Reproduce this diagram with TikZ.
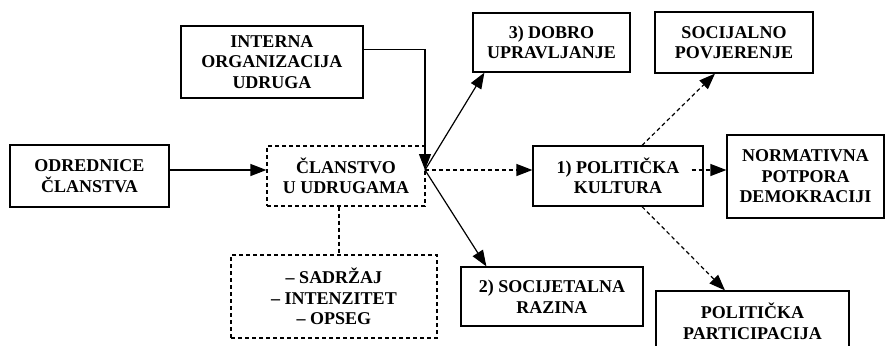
\documentclass[tikz,border=0pt]{standalone}
\usepackage{fontspec}
\setmainfont{Liberation Serif}
\usepackage{tikz}
\usetikzlibrary{arrows.meta,calc}
\tikzset{
  box/.style={draw, line width=0.6pt, align=center, inner sep=0pt, font=\fontsize{9}{10.25}\selectfont\bfseries},
  dbox/.style={box, dash pattern=on 2pt off 1.5pt},
  arrow/.style={-{Triangle[length=8pt,width=6pt]}, line width=0.6pt},
  darrow/.style={arrow, dash pattern=on 2pt off 1.5pt},
  link/.style={line width=0.6pt, dash pattern=on 2pt off 1.5pt}
}

\begin{document}
\begin{tikzpicture}[x=0.5pt,y=-0.5pt]
    \path[use as bounding box, clip] (0,0) rectangle (885,345);
    % Left side
    \node[box, minimum width=91pt, minimum height=36pt] (interna) at (272,62) {INTERNA\\ORGANIZACIJA\\UDRUGA};
    \node[box, minimum width=79.5pt, minimum height=31pt] (odrednice) at (89.5,176) {ODREDNICE\\ČLANSTVA};
    \node[dbox, minimum width=79pt, minimum height=30pt] (clanstvo) at (346,176) {ČLANSTVO\\U UDRUGAMA};
    \node[dbox, minimum width=103pt, minimum height=41.5pt] (dimenzije) at (334,296.5) {– SADRŽAJ\\– INTENZITET\\– OPSEG};
    % Right side
    \node[box, minimum width=78.5pt, minimum height=29.5pt] (dobro) at (551.5,42.5) {3) DOBRO\\UPRAVLJANJE};
    \node[box, minimum width=79pt, minimum height=30.5pt] (socijalno) at (734,42.5) {SOCIJALNO\\POVJERENJE};
    \node[box, minimum width=85pt, minimum height=30pt] (politicka) at (618,176) {1) POLITIČKA\\KULTURA};
    \node[box, minimum width=78.5pt, minimum height=41.5pt] (normativna) at (805.5,176.5) {NORMATIVNA\\POTPORA\\DEMOKRACIJI};
    \node[box, minimum width=91pt, minimum height=29.5pt] (socijetalna) at (552,296.5) {2) SOCIJETALNA\\RAZINA};
    \node[box, minimum width=96.5pt, minimum height=30.5pt] (participacija) at (752.5,321.5) {POLITIČKA\\PARTICIPACIJA};
    % Connectors
    \coordinate (hub) at (425,170);
    \draw[arrow] (odrednice.east |- hub) -- (clanstvo.west |- hub);
    \draw[arrow] (interna.8) -| (hub);
    \draw[link] ($(clanstvo.south)+(-7,0)$) -- ($(dimenzije.north)+(5,0)$);
    \draw[arrow] (hub) -- ($(dobro.south west)+(12,0)$);
    \draw[arrow] (hub) -- ($(socijetalna.north west)+(26,0)$);
    \draw[darrow] (hub) -- (politicka.west |- hub);
    \draw[darrow] ($(politicka.north)+(24,0)$) -- ($(socijalno.south)+(-19,0)$);
    \draw[darrow] ($(politicka.east |- hub)+(-12,0)$) -- (normativna.west |- hub);
    \draw[darrow] ($(politicka.south)+(24,0)$) -- ($(participacija.north)+(-27.5,0)$);
\end{tikzpicture}
\end{document}
